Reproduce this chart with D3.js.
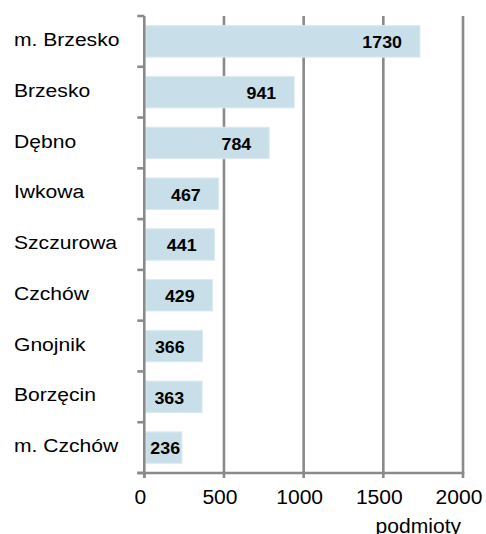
<!DOCTYPE html>
<html>
<head>
<meta charset="utf-8">
<script src="https://cdn.jsdelivr.net/npm/d3@7"></script>
<style>
  body { margin: 0; background: #fff; }
  svg text { font-family: "Liberation Sans", Arial, sans-serif; fill: #000; }
</style>
</head>
<body>
<svg width="486" height="534"></svg>
<script>
// gminy i liczba podmiotow
const categories = ["m. Brzesko", "Brzesko", "Dębno", "Iwkowa", "Szczurowa", "Czchów", "Gnojnik", "Borzęcin", "m. Czchów"];
const values = [1730, 941, 784, 467, 441, 429, 366, 363, 236];
const xTicks = [0, 500, 1000, 1500, 2000];
const xTitle = "podmioty";

const plotTop = 16, plotBottom = 473;
const gridColor = "#8a8a8a";
const stretch = 1.11; // text in the source is a bit wider than plain Arial

const svg = d3.select("svg");

const x = d3.scaleLinear().domain([0, 2000]).range([144.3, 463]);
const y = d3.scaleBand()
  .domain(categories)
  .range([plotTop, plotBottom])
  .paddingInner(0.38)
  .paddingOuter(0.19);

// gridlines
svg.append("g").selectAll("line")
  .data(xTicks.filter(d => d > 0))
  .enter().append("line")
    .attr("x1", d => x(d)).attr("x2", d => x(d))
    .attr("y1", plotTop).attr("y2", plotBottom)
    .attr("stroke", gridColor)
    .attr("stroke-width", 2.6);

// bars
svg.append("g").selectAll("rect")
  .data(values)
  .enter().append("rect")
    .attr("x", x(0) + 1.5)
    .attr("y", (d, i) => y(categories[i]))
    .attr("width", d => x(d) - x(0) - 1.5)
    .attr("height", y.bandwidth())
    .attr("fill", "#c8dfe9")
    .attr("stroke", "#dcebf1")
    .attr("stroke-width", 1);

// y axis line + ticks at band boundaries
const step = y.step();
const bounds = d3.range(categories.length + 1).map(i => y(categories[0]) - step * y.paddingInner() / 2 + i * step);
svg.append("line")
  .attr("x1", x(0)).attr("x2", x(0))
  .attr("y1", plotTop).attr("y2", plotBottom + 5)
  .attr("stroke", gridColor).attr("stroke-width", 2.6);
svg.append("g").selectAll("line")
  .data(bounds)
  .enter().append("line")
    .attr("x1", x(0) - 7).attr("x2", x(0))
    .attr("y1", d => d).attr("y2", d => d)
    .attr("stroke", gridColor).attr("stroke-width", 2.6);

// x axis line + ticks
svg.append("line")
  .attr("x1", x(0) - 7).attr("x2", x(2000) + 1.3)
  .attr("y1", plotBottom).attr("y2", plotBottom)
  .attr("stroke", gridColor).attr("stroke-width", 2.6);
svg.append("g").selectAll("line")
  .data(xTicks)
  .enter().append("line")
    .attr("x1", d => x(d)).attr("x2", d => x(d))
    .attr("y1", plotBottom).attr("y2", plotBottom + 5)
    .attr("stroke", gridColor).attr("stroke-width", 2.6);

// x tick labels
svg.append("g").selectAll("text")
  .data(xTicks)
  .enter().append("text")
    .attr("transform", d => `translate(${x(d) - 4},503.5) scale(1.08,1)`)
    .attr("text-anchor", "middle")
    .style("font-size", "19.5px")
    .text(d => d);

svg.append("text")
  .attr("transform", `translate(461,533) scale(1.08,1)`)
  .attr("text-anchor", "end")
  .style("font-size", "19.5px")
  .text(xTitle);

// category labels
svg.append("g").selectAll("text")
  .data(categories)
  .enter().append("text")
    .attr("transform", d => `translate(14,${y(d) + y.bandwidth() / 2 - 2}) scale(${stretch},1)`)
    .attr("dy", "0.35em")
    .style("font-size", "19px")
    .text(d => d);

// value labels
const valueLabels = svg.append("g").selectAll("text")
  .data(values)
  .enter().append("text")
    .attr("text-anchor", "end")
    .attr("dy", "0.35em")
    .style("font-size", "16.5px")
    .style("font-weight", "bold")
    .text(d => d);

valueLabels.attr("transform", function(d, i) {
  const w = this.getComputedTextLength() * 1.08;
  const xe = Math.max(x(d) - 18, x(0) + 6 + w);
  return `translate(${xe},${y(categories[i]) + y.bandwidth() / 2 + 1}) scale(1.08,1)`;
});
</script>
</body>
</html>
